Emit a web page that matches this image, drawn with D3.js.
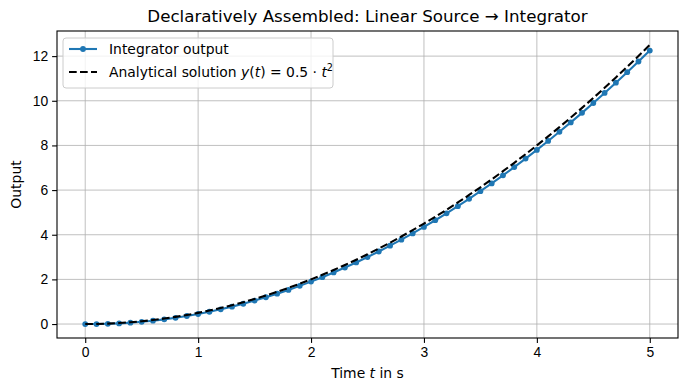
<!DOCTYPE html>
<html>
<meta charset="utf-8">
<style>
  body { margin: 0; background: #fff; }
  svg { font-family: "DejaVu Sans", sans-serif; }
  .grid line { stroke: #b0b0b0; stroke-width: 0.8; }
  .axis text { font-size: 13.9px; fill: #000; }
  .axis path, .axis line { stroke: #000; stroke-width: 1.1; }
</style>
<body>
<script src="https://cdn.jsdelivr.net/npm/d3@7"></script>
<script>
// time samples (s)
var time = [0.0,0.1,0.2,0.3,0.4,0.5,0.6,0.7,0.8,0.9,1.0,1.1,1.2,1.3,1.4,1.5,1.6,1.7,1.8,1.9,
            2.0,2.1,2.2,2.3,2.4,2.5,2.6,2.7,2.8,2.9,3.0,3.1,3.2,3.3,3.4,3.5,3.6,3.7,3.8,3.9,
            4.0,4.1,4.2,4.3,4.4,4.5,4.6,4.7,4.8,4.9,5.0];
// integrator output
var integrator = [0,0,0.01,0.03,0.06,0.10,0.15,0.21,0.28,0.36,0.45,0.55,0.66,0.78,0.91,1.05,1.20,1.36,1.53,1.71,
                  1.90,2.10,2.31,2.53,2.76,3.00,3.25,3.51,3.78,4.06,4.35,4.65,4.96,5.28,5.61,5.95,6.30,6.66,7.03,7.41,
                  7.80,8.20,8.61,9.03,9.46,9.90,10.35,10.81,11.28,11.76,12.25];
// analytical solution
var analytical = [0,0.005,0.02,0.045,0.08,0.125,0.18,0.245,0.32,0.405,0.5,0.605,0.72,0.845,0.98,1.125,1.28,1.445,1.62,1.805,
                  2.0,2.205,2.42,2.645,2.88,3.125,3.38,3.645,3.92,4.205,4.5,4.805,5.12,5.445,5.78,6.125,6.48,6.845,7.22,7.605,
                  8.0,8.405,8.82,9.245,9.68,10.125,10.58,11.045,11.52,12.005,12.5];
var xTicks = [0, 1, 2, 3, 4, 5];
var yTicks = [0, 2, 4, 6, 8, 10, 12];

var width = 687, height = 392;
var margin = {top: 31, right: 9, bottom: 54, left: 57};

var svg = d3.select("body").append("svg")
    .attr("width", width)
    .attr("height", height);

var x = d3.scaleLinear().domain([-0.25, 5.25]).range([margin.left, width - margin.right]);
var y = d3.scaleLinear().domain([-0.625, 13.125]).range([height - margin.bottom, margin.top]);

// grid
var grid = svg.append("g").attr("class", "grid");
grid.selectAll(".gx").data(xTicks).enter().append("line")
    .attr("x1", function(d) { return x(d); }).attr("x2", function(d) { return x(d); })
    .attr("y1", y.range()[0]).attr("y2", y.range()[1]);
grid.selectAll(".gy").data(yTicks).enter().append("line")
    .attr("y1", function(d) { return y(d); }).attr("y2", function(d) { return y(d); })
    .attr("x1", x.range()[0]).attr("x2", x.range()[1]);

var pts = time.map(function(t, i) { return {t: t, a: integrator[i], b: analytical[i]}; });

svg.append("clipPath").attr("id", "clip").append("rect")
    .attr("x", margin.left).attr("y", margin.top)
    .attr("width", width - margin.left - margin.right)
    .attr("height", height - margin.top - margin.bottom);

var plot = svg.append("g").attr("clip-path", "url(#clip)");

plot.append("path")
    .datum(pts)
    .attr("fill", "none")
    .attr("stroke", "#1f77b4")
    .attr("stroke-width", 2.1)
    .attr("d", d3.line().x(function(d) { return x(d.t); }).y(function(d) { return y(d.a); }));

plot.selectAll(".dot").data(pts).enter().append("circle")
    .attr("cx", function(d) { return x(d.t); })
    .attr("cy", function(d) { return y(d.a); })
    .attr("r", 2.9)
    .attr("fill", "#1f77b4");

plot.append("path")
    .datum(pts)
    .attr("fill", "none")
    .attr("stroke", "#000")
    .attr("stroke-width", 2.1)
    .attr("stroke-dasharray", "7.7,3.3")
    .attr("d", d3.line().x(function(d) { return x(d.t); }).y(function(d) { return y(d.b); }));

// axes
svg.append("g").attr("class", "axis")
    .attr("transform", "translate(0," + y.range()[0] + ")")
    .call(d3.axisBottom(x).tickValues(xTicks).tickFormat(d3.format("d")).tickSize(4.9).tickPadding(4).tickSizeOuter(0))
    .select(".domain").remove();
svg.append("g").attr("class", "axis")
    .attr("transform", "translate(" + x.range()[0] + ",0)")
    .call(d3.axisLeft(y).tickValues(yTicks).tickFormat(d3.format("d")).tickSize(4.9).tickPadding(4).tickSizeOuter(0))
    .select(".domain").remove();

svg.append("rect")
    .attr("x", margin.left).attr("y", margin.top)
    .attr("width", width - margin.left - margin.right)
    .attr("height", height - margin.top - margin.bottom)
    .attr("fill", "none").attr("stroke", "#000").attr("stroke-width", 1.1);

// labels
svg.append("text")
    .attr("x", (x.range()[0] + x.range()[1]) / 2).attr("y", 22)
    .attr("text-anchor", "middle").attr("font-size", "16.7px")
    .text("Declaratively Assembled: Linear Source \u2192 Integrator");

var xl = svg.append("text")
    .attr("x", (x.range()[0] + x.range()[1]) / 2).attr("y", 378)
    .attr("text-anchor", "middle").attr("font-size", "13.9px");
xl.append("tspan").text("Time ");
xl.append("tspan").attr("font-style", "italic").text("t");
xl.append("tspan").text(" in s");

svg.append("text")
    .attr("transform", "translate(21," + ((y.range()[0] + y.range()[1]) / 2) + ") rotate(-90)")
    .attr("text-anchor", "middle").attr("font-size", "13.9px")
    .text("Output");

// legend
var lg = svg.append("g").attr("transform", "translate(63,38)");
lg.append("rect")
    .attr("width", 270).attr("height", 50).attr("rx", 3)
    .attr("fill", "#fff").attr("fill-opacity", 0.8)
    .attr("stroke", "#cccccc").attr("stroke-width", 1);
lg.append("line").attr("x1", 6).attr("x2", 34).attr("y1", 11).attr("y2", 11)
    .attr("stroke", "#1f77b4").attr("stroke-width", 2.1);
lg.append("circle").attr("cx", 20).attr("cy", 11).attr("r", 2.9).attr("fill", "#1f77b4");
lg.append("text").attr("x", 46).attr("y", 16).attr("font-size", "13.9px").text("Integrator output");
lg.append("line").attr("x1", 6).attr("x2", 34).attr("y1", 34).attr("y2", 34)
    .attr("stroke", "#000").attr("stroke-width", 2.1).attr("stroke-dasharray", "7.7,3.3");
var t2 = lg.append("text").attr("x", 46).attr("y", 39).attr("font-size", "13.9px");
t2.append("tspan").text("Analytical solution ");
t2.append("tspan").attr("font-style", "italic").text("y");
t2.append("tspan").text("(");
t2.append("tspan").attr("font-style", "italic").text("t");
t2.append("tspan").text(") = 0.5 \u00b7 ");
t2.append("tspan").attr("font-style", "italic").text("t");
t2.append("tspan").attr("font-size", "9.7px").attr("dy", -6).text("2");
</script>
</body>
</html>
